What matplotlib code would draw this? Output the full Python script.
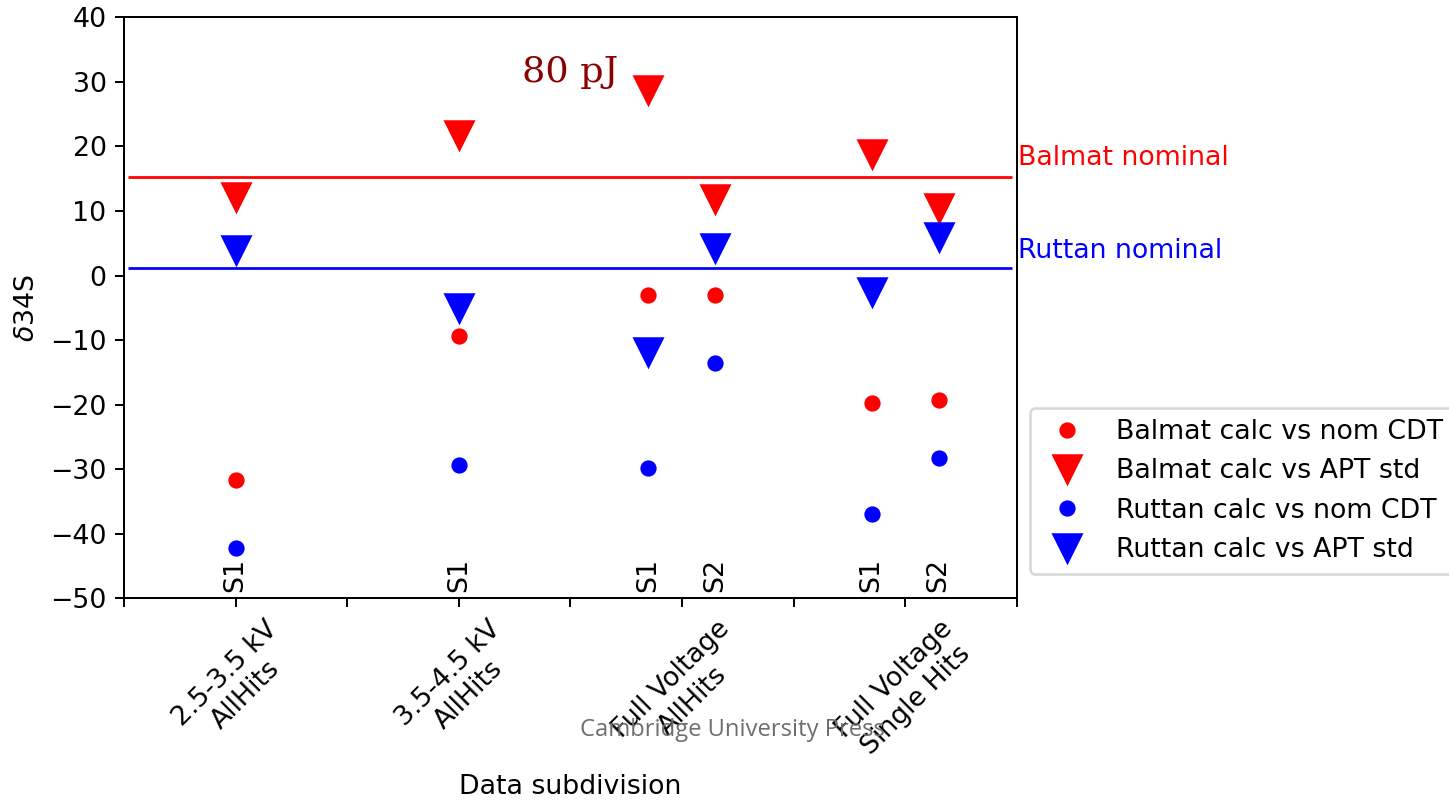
import matplotlib
matplotlib.use("Agg")
import matplotlib.pyplot as plt

# ---- data ----
positions = [1, 3, 4.7, 5.3, 6.7, 7.3]
sub_labels = ["S1", "S1", "S1", "S2", "S1", "S2"]
balmat_cdt = [-31.7, -9.3, -3.0, -3.0, -19.7, -19.3]
balmat_apt = [12.2, 21.7, 28.7, 11.8, 18.9, 10.4]
ruttan_cdt = [-42.25, -29.3, -29.8, -13.5, -36.9, -28.3]
ruttan_apt = [4.0, -5.1, -11.9, 4.3, -2.6, 5.9]
balmat_nominal = 15.2
ruttan_nominal = 1.2
group_ticks = [0, 1, 2, 3, 4, 5, 6, 7, 8]
group_labels = ["", "2.5-3.5 kV\nAllHits", "", "3.5-4.5 kV\nAllHits", "",
                "Full Voltage\nAllHits", "", "Full Voltage\nSingle Hits", ""]

plt.rcParams["font.family"] = ["DejaVu Sans"]
plt.rcParams["font.size"] = 10.7

W, H, DPI = 1449, 801, 180
fig = plt.figure(figsize=(W / DPI, H / DPI), dpi=DPI)
ax = fig.add_axes([124 / W, 1 - 598.3 / H, (1016.7 - 124) / W, (598.3 - 17.3) / H])

ax.plot(positions, balmat_cdt, "o", color="red", ms=5.5, label="Balmat calc vs nom CDT")
ax.plot(positions, balmat_apt, "v", color="red", ms=11, label="Balmat calc vs APT std")
ax.plot(positions, ruttan_cdt, "o", color="blue", ms=5.5, label="Ruttan calc vs nom CDT")
ax.plot(positions, ruttan_apt, "v", color="blue", ms=11, label="Ruttan calc vs APT std")

ax.hlines(balmat_nominal, 0.04, 7.955, color="red", lw=1.1)
ax.hlines(ruttan_nominal, 0.04, 7.955, color="blue", lw=1.1)

ax.set_xlim(0, 8)
ax.set_ylim(-50, 40)
ax.set_yticks(range(-50, 41, 10))
ax.set_xticks(group_ticks)
ax.set_xticklabels(group_labels, rotation=45)

for x, s in zip(positions, sub_labels):
    ax.text(x, -49, s, rotation=90, ha="center", va="bottom")

ax.text(8.01, 17.1, "Balmat nominal", color="red", ha="left", va="baseline", clip_on=False)
ax.text(8.01, 2.7, "Ruttan nominal", color="blue", ha="left", va="baseline", clip_on=False)
ax.text(3.57, 30.0, "80 pJ", color="darkred", family="DejaVu Serif", fontsize=14.6,
        ha="left", va="baseline")

ax.set_xlabel("Data subdivision")
ax.set_ylabel(r"$\delta$34S")

ax.legend(loc="upper left", bbox_to_anchor=(1030 / W, 1 - 408.3 / H),
          bbox_transform=fig.transFigure, borderaxespad=0)

fig.text(732 / W, 1 - 730 / H, "Cambridge University Press", family="Open Sans",
         fontsize=9.5, color="#6e6e6e", ha="center", va="center")

fig.savefig("out.png", dpi=DPI)
